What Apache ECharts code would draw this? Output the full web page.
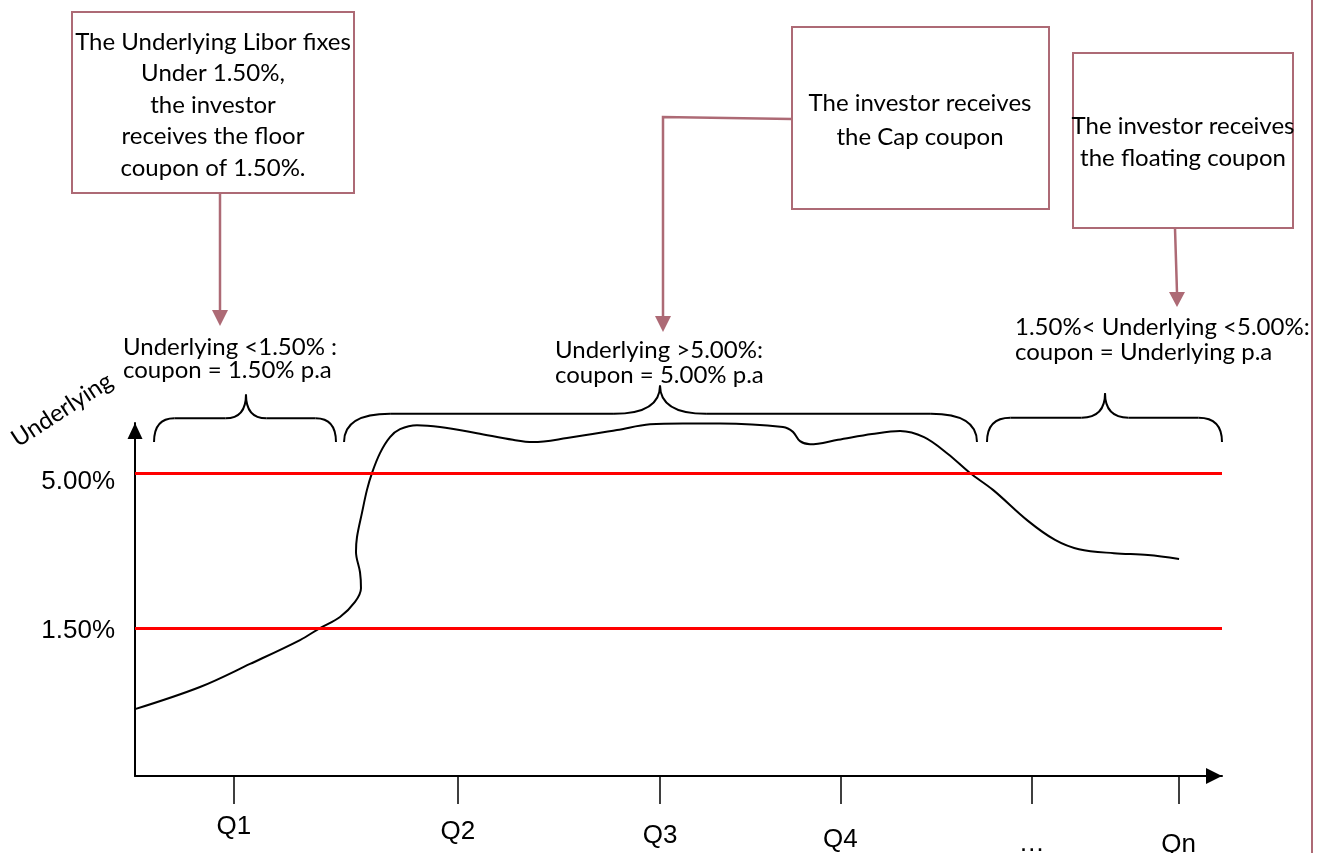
<!DOCTYPE html>
<html><head><meta charset="utf-8">
<script src="https://cdn.jsdelivr.net/npm/echarts@6/dist/echarts.min.js"></script>
<style>html,body{margin:0;padding:0;background:#fff}#c{width:1328px;height:853px}</style>
</head><body><div id="c"></div>
<script>
// ---- data (x: timeline position 0..100, y: underlying rate in %) ----
const xTickValues = [9.1, 29.7, 48.3, 64.9, 82.5, 96.0];
const xTickLabels = ['Q1', 'Q2', 'Q3', 'Q4', '…', 'Qn'];
const yLevelValues = [1.5, 5.0];
const yLevelLabels = ['1.50%', '5.00%'];
const underlyingX = [0, 5.98, 10.58, 15.18, 17.02, 18.86, 20.24, 20.79, 20.70, 20.33, 20.42, 20.88, 21.34, 21.80, 22.54, 23.46, 24.38, 25.94, 28.06, 31.46, 34.77, 36.61, 39.74, 44.34, 47.38, 50.41, 53.82, 59.61, 60.53, 61.18, 62.10, 64.67, 67.80, 70.38, 72.59, 74.79, 76.82, 78.93, 82.15, 84.64, 86.84, 90.06, 93.19, 96.05];
const underlyingY = [-0.33, 0.17, 0.69, 1.23, 1.50, 1.75, 2.09, 2.40, 2.76, 3.22, 3.55, 4.10, 4.62, 5.00, 5.45, 5.81, 5.99, 6.08, 6.04, 5.90, 5.75, 5.70, 5.79, 5.97, 6.10, 6.12, 6.12, 6.04, 5.93, 5.72, 5.65, 5.75, 5.88, 5.95, 5.81, 5.43, 5.00, 4.62, 3.92, 3.49, 3.28, 3.19, 3.15, 3.06];
const braceStart = [1.75, 19.23, 78.38];
const braceEnd = [18.49, 77.46, 100];
const braceTip = [10.21, 48.30, 89.24];
const braceLevel = [5.70, 5.70, 5.70];
const regionTexts = ['Underlying <1.50% :\ncoupon = 1.50% p.a', 'Underlying >5.00%:\ncoupon = 5.00% p.a', '1.50%< Underlying <5.00%:\ncoupon = Underlying p.a'];
const calloutTexts = ['The Underlying Libor fixes\nUnder 1.50%,\nthe investor\nreceives the floor\ncoupon of 1.50%.', 'The investor receives\nthe Cap coupon', 'The investor receives\nthe floating coupon'];

const mauve = '#ad6a75';
const axisFont = 'Liberation Sans, Arial, sans-serif';
const noteFont = 'Lato, sans-serif';

const curveData = underlyingX.map((x, i) => [x, underlyingY[i]]);
const braceData = braceStart.map((s, i) => [s, braceEnd[i], braceTip[i], braceLevel[i]]);

const xOffsets = [0, 5, 9, 13, 17, 18];
const xRich = {};
xOffsets.forEach((o, i) => { xRich['s' + i] = {fontSize: 26, fontFamily: axisFont, color: '#000', padding: [o, 0, 0, 0]}; });
const yPads = [6, 18];
const yRich = {};
yPads.forEach((p, i) => { yRich['y' + i] = {fontSize: 26, fontFamily: axisFont, color: '#000', padding: [p, 0, 0, 0]}; });

function nearestIdx(arr, v) {
  let b = 0; arr.forEach((a, i) => { if (Math.abs(a - v) < Math.abs(arr[b] - v)) b = i; }); return b;
}

const chart = echarts.init(document.getElementById('c'));
const txt = (text, x, y, lh, align) => ({type: 'text', z: 10, style: {text, x, y, align: align || 'center', verticalAlign: 'middle', fontSize: 24, fontFamily: noteFont, lineHeight: lh, fill: '#000'}});

chart.setOption({
  animation: false,
  backgroundColor: '#fff',
  grid: {left: 135, right: 106, top: 423, bottom: 77, containLabel: false, outerBoundsMode: 'none'},
  xAxis: {
    type: 'value', min: 0, max: 100,
    axisLine: {show: true, onZero: false, lineStyle: {color: '#000', width: 2}, symbol: ['none', 'triangle'], symbolSize: [16, 16], symbolOffset: [0, -8]},
    axisTick: {show: true, customValues: xTickValues, length: 28, lineStyle: {color: '#000', width: 1.5}},
    axisLabel: {
      show: true, customValues: xTickValues, margin: 38,
      formatter: v => { const i = nearestIdx(xTickValues, v); return '{s' + i + '|' + xTickLabels[i] + '}'; },
      rich: xRich
    },
    splitLine: {show: false}
  },
  yAxis: {
    type: 'value', min: -1.84, max: 6.13,
    axisLine: {show: true, onZero: false, lineStyle: {color: '#000', width: 2}, symbol: ['none', 'triangle'], symbolSize: [15, 16], symbolOffset: [0, -8]},
    axisTick: {show: false},
    axisLabel: {
      show: true, customValues: yLevelValues, margin: 20,
      formatter: v => { const i = nearestIdx(yLevelValues, v); return '{y' + i + '|' + yLevelLabels[i] + '}'; },
      rich: yRich
    },
    splitLine: {show: false}
  },
  series: [
    {
      type: 'line', name: 'Underlying', data: curveData, smooth: 0.35, showSymbol: false, clip: false,
      lineStyle: {color: '#000', width: 2}, z: 3,
      markLine: {
        silent: true, symbol: ['none', 'none'], label: {show: false},
        lineStyle: {color: '#ff0000', width: 3, type: 'solid'},
        data: yLevelValues.map(v => ({yAxis: v}))
      }
    },
    {
      type: 'custom', name: 'braces', data: braceData, clip: false, z: 4,
      renderItem: (params, api) => {
        const p0 = api.coord([api.value(0), api.value(3)]);
        const p1 = api.coord([api.value(1), api.value(3)]);
        const pt = api.coord([api.value(2), api.value(3)]);
        const w = p1[0] - p0[0];
        const rise = 22 + 0.01 * w;
        const r = 10 + 0.057 * w;
        const rt = Math.min(r, 12 + 0.055 * w);
        const x0 = p0[0], x1 = p1[0], xt = pt[0], yb = p0[1];
        const yh = yb - rise, ytip = yb - 2 * rise;
        const st = {stroke: '#000', lineWidth: 2, fill: null};
        return {
          type: 'group', children: [
            {type: 'bezierCurve', shape: {x1: x0, y1: yb, cpx1: x0, cpy1: yh, x2: x0 + r, y2: yh}, style: st},
            {type: 'line', shape: {x1: x0 + r, y1: yh, x2: xt - rt, y2: yh}, style: st},
            {type: 'bezierCurve', shape: {x1: xt - rt, y1: yh, cpx1: xt, cpy1: yh, x2: xt, y2: ytip}, style: st},
            {type: 'bezierCurve', shape: {x1: xt, y1: ytip, cpx1: xt, cpy1: yh, x2: xt + rt, y2: yh}, style: st},
            {type: 'line', shape: {x1: xt + rt, y1: yh, x2: x1 - r, y2: yh}, style: st},
            {type: 'bezierCurve', shape: {x1: x1 - r, y1: yh, cpx1: x1, cpy1: yh, x2: x1, y2: yb}, style: st}
          ]
        };
      }
    }
  ],
  graphic: [
    {type: 'line', shape: {x1: 1312, y1: 0, x2: 1312, y2: 853}, style: {stroke: mauve, lineWidth: 2}},
    {type: 'rect', shape: {x: 72, y: 12, width: 282, height: 181}, style: {fill: '#fff', stroke: mauve, lineWidth: 2}},
    txt(calloutTexts[0], 213, 105, 31.5),
    {type: 'line', shape: {x1: 220, y1: 193, x2: 220, y2: 312}, style: {stroke: mauve, lineWidth: 2.5}},
    {type: 'polygon', shape: {points: [[212, 310], [228, 310], [220, 326]]}, style: {fill: mauve}},
    {type: 'rect', shape: {x: 792, y: 27, width: 257, height: 182}, style: {fill: '#fff', stroke: mauve, lineWidth: 2}},
    txt(calloutTexts[1], 920, 120, 34),
    {type: 'polyline', shape: {points: [[792, 119], [663, 117], [663, 318]]}, style: {stroke: mauve, lineWidth: 2.5, fill: null}},
    {type: 'polygon', shape: {points: [[655, 316], [671, 316], [663, 332]]}, style: {fill: mauve}},
    {type: 'rect', shape: {x: 1073, y: 53, width: 220, height: 175}, style: {fill: '#fff', stroke: mauve, lineWidth: 2}},
    txt(calloutTexts[2], 1183, 142, 32),
    {type: 'line', shape: {x1: 1175, y1: 228, x2: 1177, y2: 293}, style: {stroke: mauve, lineWidth: 2.5}},
    {type: 'polygon', shape: {points: [[1169, 292], [1185, 292], [1177, 307]]}, style: {fill: mauve}},
    txt(regionTexts[0], 123, 358.5, 23, 'left'),
    txt(regionTexts[1], 555, 362.5, 25, 'left'),
    txt(regionTexts[2], 1015, 339.5, 25, 'left'),
    {type: 'text', x: 62, y: 410, rotation: 33 * Math.PI / 180, z: 10,
      style: {text: 'Underlying', x: 0, y: 0, align: 'center', verticalAlign: 'middle', fontSize: 24, fontFamily: noteFont, fill: '#000'}}
  ]
});
</script></body></html>
